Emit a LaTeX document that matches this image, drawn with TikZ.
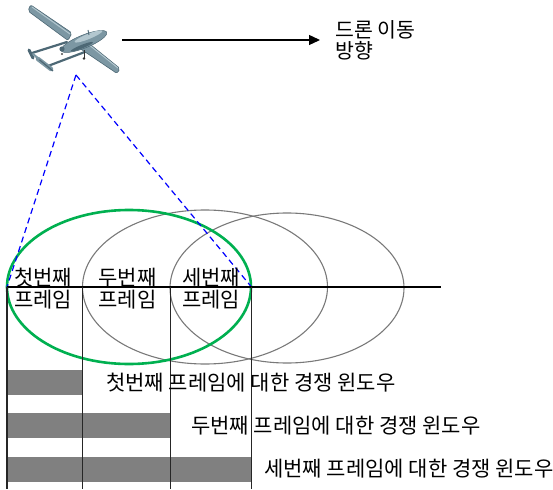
\documentclass[tikz,border=0pt]{standalone}
\usepackage{fontspec}
\setmainfont{Noto Sans CJK KR}
\usetikzlibrary{arrows.meta}
\definecolor{framegreen}{HTML}{00B050}
\definecolor{bodymid}{HTML}{7C97A3}
\definecolor{bodydark}{HTML}{4D6875}
\definecolor{bodylight}{HTML}{B3C7CF}
\tikzset{
  labeltext/.style={font=\fontsize{21}{22.5}\selectfont, inner sep=0pt, align=center},
  windowtext/.style={font=\fontsize{21}{22.5}\selectfont, inner sep=0pt, anchor=west},
  dirtext/.style={font=\fontsize{20.5}{21}\selectfont, inner sep=0pt, anchor=west, align=left},
  coverage/.style={draw=gray!95!black, line width=1.1pt},
  firstcoverage/.style={draw=framegreen, line width=2.6pt},
  baseline/.style={draw=black, line width=1.4pt},
  divider/.style={draw=black!85, line width=1.5pt},
  windowbar/.style={fill=gray},
  viewray/.style={draw=blue, line width=1.2pt, dash pattern=on 6pt off 4pt},
  motion/.style={draw=black, line width=1.3pt, -{Triangle[length=11pt,width=10pt]}}
}
\begin{document}
\begin{tikzpicture}[x=1pt,y=-1pt]
\useasboundingbox (0,0) rectangle (553,489);

% ---- drone ----
% tail booms
\draw[bodydark, line width=2.2pt, line cap=round] (67,42) -- (32,53);
\draw[bodydark, line width=2.2pt, line cap=round] (90,50) -- (48,66);
% tail: fins and horizontal stabiliser
\draw[bodymid, line width=4.5pt, line cap=round] (38,59) -- (51,69);
\draw[bodydark, line width=1.2pt] (36,57) -- (53,71);
\draw[bodydark, line width=3pt, line cap=round] (29,50) -- (33,58);
\draw[bodymid, line width=2pt, line cap=round] (33,54) -- (39,59);
% main wing (upper half and lower half)
\fill[bodymid, draw=bodydark, line width=0.6pt, rounded corners=2pt]
  (30.5,4.8) -- (72,33) -- (68,40.5) -- (28,11) -- cycle;
\fill[bodymid, draw=bodydark, line width=0.6pt, rounded corners=2pt]
  (86,41) -- (120,68.5) -- (117,73.5) -- (80,48.5) -- cycle;
\draw[bodylight, line width=1pt] (32,7) -- (70,34);
\draw[bodylight, line width=1pt] (88,44) -- (118,68);
% fuselage
\fill[bodymid, draw=bodydark, line width=0.5pt, rotate around={22:(84,41.5)}]
  (84,41.5) ellipse [x radius=24.5, y radius=6.5];
\fill[bodylight, rotate around={22:(84,41.5)}] (90,38.5) ellipse [x radius=15, y radius=2.6];
\fill[bodydark, rotate around={22:(84,41.5)}] (80,45.5) ellipse [x radius=12, y radius=1.8];
% engine at the rear
\fill[bodydark] (62,49) circle (2.6);
% landing gear and antenna
\draw[black!80, line width=1pt] (84,50) -- (84,58);
\fill[black!80] (84,58.5) circle (1.4);
\fill[black!70] (62,54) circle (1.2);
\draw[bodydark, line width=0.9pt] (89,35) -- (88,30);

% ---- direction of motion ----
\coordinate (arrowstart) at (122,40);
\coordinate (arrowend) at (320,40);
\draw[motion] (arrowstart) -- (arrowend);
\node[dirtext] (dirlabel) at (335,40) {드론 이동\\방향};

% ---- coverage ellipses ----
\draw[coverage] (205,287) ellipse [x radius=122.5, y radius=77];
\draw[coverage] (287,288) ellipse [x radius=117, y radius=75];
\draw[firstcoverage] (129,287) ellipse [x radius=122, y radius=77];

% ---- camera field of view ----
\coordinate (cam) at (76,75);
\coordinate (f1) at (7,287);
\coordinate (f2) at (82.5,287);
\coordinate (f3) at (170.5,287);
\coordinate (f4) at (251.5,287);
\coordinate (lineend) at (441,287);
\draw[viewray] (cam) -- (f1);
\draw[viewray] (cam) -- (f4);

% ---- contention window bars ----
\fill[windowbar] (7,370) rectangle (82.5,395);
\fill[windowbar] (7,413) rectangle (170.5,438);
\fill[windowbar] (7,457) rectangle (251.5,482);

% ---- ground line and frame dividers ----
\draw[baseline] (f1) -- (lineend);
\draw[divider] (f1) -- (7,489);
\draw[divider] (f2) -- (82.5,489);
\draw[divider] (f3) -- (170.5,489);
\draw[divider] (f4) -- (251.5,489);

% ---- frame labels ----
\node[labeltext] (frame1) at (43,288.5) {첫번째\\프레임};
\node[labeltext] (frame2) at (127.5,288.5) {두번째\\프레임};
\node[labeltext] (frame3) at (211,288.5) {세번째\\프레임};

% ---- window labels ----
\node[windowtext] (win1) at (106,383) {첫번째 프레임에 대한 경쟁 윈도우};
\node[windowtext] (win2) at (191,426) {두번째 프레임에 대한 경쟁 윈도우};
\node[windowtext] (win3) at (264,469) {세번째 프레임에 대한 경쟁 윈도우};
\end{tikzpicture}
\end{document}
